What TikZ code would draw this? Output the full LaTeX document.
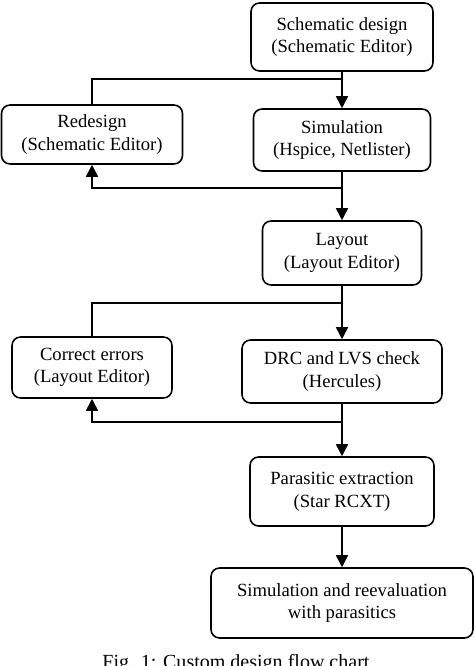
\documentclass[tikz,border=0pt]{standalone}
\usepackage{fontspec}
\setmainfont{Liberation Serif}
\usepackage{tikz}
\usetikzlibrary{arrows.meta}
\tikzstyle{stepbox} = [draw=black, line width=0.9pt, rounded corners=0.17cm, align=center, inner sep=0pt, font=\fontsize{10.6}{12.9}\selectfont]
\tikzstyle{arr} = [-{Triangle[length=0.24cm, width=0.24cm]}, line width=0.9pt]
\tikzstyle{wire} = [line width=0.9pt]

\begin{document}
\begin{tikzpicture}[x=0.02cm, y=-0.02cm]
  \useasboundingbox (0,0) rectangle (474,666);

  \node[stepbox, minimum width=3.64cm, minimum height=1.36cm] (design) at (342,37) {Schematic design\\(Schematic Editor)};
  \node[stepbox, minimum width=3.62cm, minimum height=1.18cm] (redesign) at (92,134.5) {Redesign\\(Schematic Editor)};
  \node[stepbox, minimum width=3.54cm, minimum height=1.24cm] (sim) at (342,140) {Simulation\\(Hspice, Netlister)};
  \node[stepbox, minimum width=3.18cm, minimum height=1.28cm] (layout) at (342,253) {Layout\\(Layout Editor)};
  \node[stepbox, minimum width=3.20cm, minimum height=1.22cm] (correct) at (92,367.5) {Correct errors\\(Layout Editor)};
  \node[stepbox, minimum width=4.00cm, minimum height=1.26cm] (drc) at (342,371.5) {DRC and LVS check\\(Hercules)};
  \node[stepbox, minimum width=3.68cm, minimum height=1.38cm] (parasitic) at (342,491.5) {Parasitic extraction\\(Star RCXT)};
  \node[stepbox, minimum width=5.24cm, minimum height=1.40cm] (final) at (342,603) {Simulation and reevaluation\\with parasitics};

  \node[font=\fontsize{11.4}{13}\selectfont] (caption) at (236,664) {Fig. 1: Custom design flow chart};

  % feedback loops
  \coordinate (top1) at (342,79);
  \coordinate (bot1) at (342,188);
  \coordinate (top2) at (342,303);
  \coordinate (bot2) at (342,422);

  \draw[arr] (design) -- (sim);
  \draw[wire] (top1) -| (redesign.north);
  \draw[arr] (bot1) -| (redesign.south);
  \draw[arr] (sim) -- (layout);

  \draw[arr] (layout) -- (drc);
  \draw[wire] (top2) -| (correct.north);
  \draw[arr] (bot2) -| (correct.south);
  \draw[arr] (drc) -- (parasitic);
  \draw[arr] (parasitic) -- (final);

\end{tikzpicture}
\end{document}
